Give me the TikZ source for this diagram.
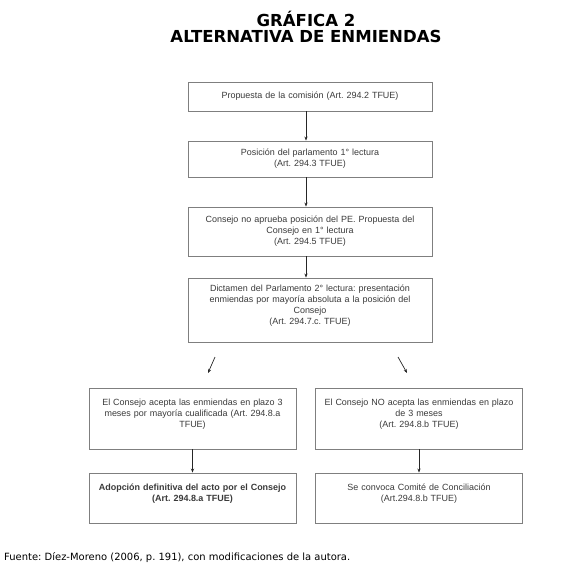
\documentclass[tikz,border=0pt]{standalone}
\usepackage{fontspec}
\setmainfont{Liberation Sans}
\newfontfamily\titlefont{DejaVu Sans}
\usetikzlibrary{arrows.meta}
\frenchspacing

\definecolor{boxline}{HTML}{7F7F7F}
\definecolor{boxtext}{HTML}{3A3A3A}

\tikzset{
  paso/.style={draw=boxline, line width=0.9bp, text=boxtext, align=center,
    inner xsep=3bp, font=\fontsize{9}{11}\selectfont},
  ancho/.style={minimum width=244bp, text width=236bp},
  angosto/.style={minimum width=207bp, text width=199bp},
  titular/.style={font=\titlefont\bfseries\fontsize{16.6}{16}\selectfont, anchor=base},
  flecha/.style={draw=black!85, line width=0.7bp, -{Stealth[length=4bp,width=3.2bp]}}
}

\begin{document}
\begin{tikzpicture}[x=1bp, y=-1bp]
  \useasboundingbox (0,0) rectangle (580,578);

  % Title
  \node[titular] (titulo1) at (306,27) {GRÁFICA 2};
  \node[titular] (titulo2) at (306,43) {ALTERNATIVA DE ENMIENDAS};

  % Main column
  \node[paso, ancho, minimum height=29bp] (b1) at (310,96.5) {Propuesta de la comisión (Art. 294.2 TFUE)};
  \node[paso, ancho, minimum height=36bp] (b2) at (310,159) {Posición del parlamento 1° lectura\\(Art. 294.3 TFUE)};
  \node[paso, ancho, minimum height=49bp] (b3) at (310,231.5) {Consejo no aprueba posición del PE. Propuesta del\\Consejo en 1° lectura\\(Art. 294.5 TFUE)};
  \node[paso, ancho, minimum height=64bp] (b4) at (310,310) {Dictamen del Parlamento 2° lectura: presentación\\enmiendas por mayoría absoluta a la posición del\\Consejo\\(Art. 294.7.c. TFUE)\\\mbox{}};

  % Two branches
  \node[paso, angosto, minimum height=61bp] (b5a) at (192.5,418.5) {El Consejo acepta las enmiendas en plazo 3\\meses por mayoría cualificada (Art. 294.8.a\\TFUE)\\\mbox{}};
  \node[paso, angosto, minimum height=61bp] (b5b) at (419,418.5) {El Consejo NO acepta las enmiendas en plazo\\de 3 meses\\(Art. 294.8.b TFUE)\\\mbox{}};
  \node[paso, angosto, minimum height=50bp] (b6a) at (192.5,498) {\textbf{Adopción definitiva del acto por el Consejo}\\\textbf{(Art. 294.8.a TFUE)}\\\mbox{}};
  \node[paso, angosto, minimum height=50bp] (b6b) at (419,498) {Se convoca Comité de Conciliación\\(Art.294.8.b TFUE)\\\mbox{}};

  % Arrows
  \draw[flecha] ([xshift=-4bp]b1.south) -- ([xshift=-4bp]b2.north);
  \draw[flecha] ([xshift=-4bp]b2.south) -- ([xshift=-4bp]b3.north);
  \draw[flecha] ([xshift=-4bp]b3.south) -- ([xshift=-4bp]b4.north);
  \coordinate (izqA) at (215,357);
  \coordinate (izqB) at (208,373);
  \coordinate (derA) at (398,357);
  \coordinate (derB) at (407,373);
  \draw[flecha] (izqA) -- (izqB);
  \draw[flecha] (derA) -- (derB);
  \draw[flecha] (b5a.south) -- (b6a.north);
  \draw[flecha] (b5b.south) -- (b6b.north);

  % Source
  \node[font=\titlefont\fontsize{10}{12}\selectfont, anchor=base west, inner sep=0pt] (fuente) at (4,560) {Fuente: Díez-Moreno (2006, p. 191), con modificaciones de la autora.};
\end{tikzpicture}
\end{document}
